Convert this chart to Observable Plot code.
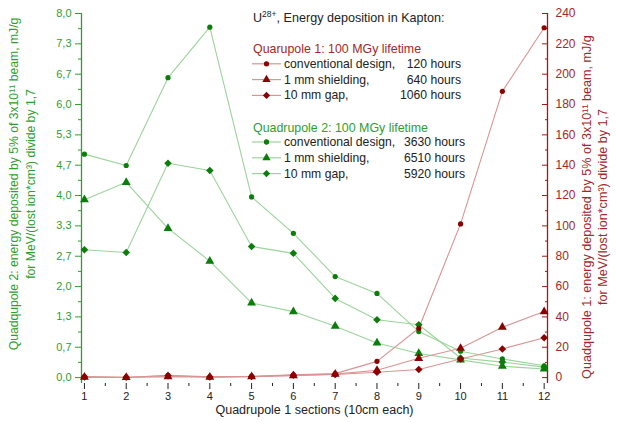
<!DOCTYPE html>
<html><head><meta charset="utf-8">
<script src="https://cdn.jsdelivr.net/npm/d3@7"></script>
<script src="https://cdn.jsdelivr.net/npm/@observablehq/plot@0.6"></script>
<style>body{margin:0;background:#fff;}</style>
</head><body><div id="chart"></div>
<script>
// ---- data ----
const sections = [1,2,3,4,5,6,7,8,9,10,11,12];
// Quadrupole 2 (left axis)
const q2Conventional = [4.91,4.66,6.59,7.70,3.97,3.17,2.22,1.85,1.01,0.58,0.41,0.26];
const q2Shield1mm   = [3.91,4.29,3.28,2.56,1.64,1.45,1.13,0.76,0.53,0.39,0.25,0.19];
const q2Gap10mm     = [2.81,2.75,4.71,4.55,2.88,2.73,1.74,1.27,1.16,0.43,0.34,0.23];
// Quadrupole 1 (right axis)
const q1Conventional = [0.6,0.1,1.5,0.5,0.8,1.8,2.6,10.7,32.5,101.3,188.7,230.6];
const q1Shield1mm   = [0.3,0.1,0.6,0.3,0.6,1.3,2.3,4.8,12.7,19.3,33.2,43.5];
const q1Gap10mm     = [0.4,0.2,1.2,0.4,0.7,1.6,2.0,3.5,5.3,12.3,18.9,26.2];
// tick labels
const leftTickLabels = ["0,0","0,7","1,3","2,0","2,7","3,3","4,0","4,7","5,3","6,0","6,7","7,3","8,0"];
const rightTickLabels = ["0","20","40","60","80","100","120","140","160","180","200","220","240"];
const xTickLabels = ["1","2","3","4","5","6","7","8","9","10","11","12"];
// legend and titles
const q1Header = "Quarupole 1: 100 MGy lifetime";
const q2Header = "Quadrupole 2: 100 MGy lifetime";
const legendNames = ["conventional design,", "1 mm shielding,", "10 mm gap,"];
const q1Hours = ["120 hours", "640 hours", "1060 hours"];
const q2Hours = ["3630 hours", "6510 hours", "5920 hours"];
const leftTitle = ["Quadqupole 2: energy deposited by 5% of 3x10¹¹ beam, mJ/g", "for MeV/(lost ion*cm³) divide by 1,7"];
const rightTitle = ["Quadqupole 1: energy deposited by 5% of 3x10¹¹ beam, mJ/g", "for MeV/(lost ion*cm³) divide by 1,7"];

// ---- styling ----
const FONT = "'Liberation Sans', Arial, sans-serif";
const GREEN_TXT = "#2f9e2f", GREEN_DOT = "#0a7d0a", GREEN_LINE = "#9bd49b";
const RED_TXT = "#a3282a", RED_DOT = "#8b0000", RED_LINE = "#d99494", RED_AXIS = "#a01818";
const RATIO = 30; // right axis (0..240) over left axis (0..8)

const rows = [];
const add = (arr, group, kind) => arr.forEach((v, i) => rows.push({x: sections[i], v, group, kind}));
add(q2Conventional, "q2", "conv"); add(q2Shield1mm, "q2", "1mm"); add(q2Gap10mm, "q2", "10mm");
add(q1Conventional, "q1", "conv"); add(q1Shield1mm, "q1", "1mm"); add(q1Gap10mm, "q1", "10mm");
const q2 = rows.filter(d => d.group === "q2");
const q1 = rows.filter(d => d.group === "q1");
const yOf = d => d.group === "q1" ? d.v / RATIO : d.v;
const symOf = {conv: "circle", "1mm": "triangle", "10mm": "diamond2"};
const rOf = {conv: 2.6, "1mm": 3.3, "10mm": 3.4};

const xDomain = [0.93, 12.08];
const leftTickVals = leftTickLabels.map((_, i) => i * 8 / 12);
const leftMinor = leftTickLabels.slice(1).map((_, i) => (i + 0.5) * 8 / 12);
const rightTickVals = rightTickLabels.map(s => +s / RATIO);
const rightMinor = rightTickLabels.slice(1).map(s => (+s - 10) / RATIO);
const xMinor = xTickLabels.slice(1).map(s => +s - 0.5);

const dotsFor = (data, fill) => ["conv", "1mm", "10mm"].map(k =>
  Plot.dot(data.filter(d => d.kind === k), {x: "x", y: yOf, symbol: () => symOf[k], r: rOf[k], fill, stroke: "none"}));

const chart = Plot.plot({
  width: 617, height: 422,
  marginLeft: 81, marginRight: 70, marginTop: 13, marginBottom: 39,
  style: {fontFamily: FONT, fontSize: "11px", background: "#fff", overflow: "visible"},
  x: {domain: xDomain, axis: null},
  y: {domain: [-0.13, 8.0], axis: null},
  symbol: {type: "identity"},
  marks: [
    Plot.ruleX([xDomain[0]], {stroke: GREEN_TXT, strokeWidth: 1.3}),
    Plot.ruleX([xDomain[1]], {stroke: RED_AXIS, strokeWidth: 1.3}),
    // left axis
    Plot.axisY({anchor: "left", ticks: leftTickVals, tickSize: 6, tickPadding: 4,
      tickFormat: (d, i) => leftTickLabels[i], color: GREEN_TXT, stroke: GREEN_TXT, label: null, fontSize: 11}),
    Plot.axisY({anchor: "left", ticks: leftMinor, tickSize: 3, tickFormat: () => "", stroke: GREEN_TXT, label: null}),
    // right axis (ticks point inward)
    Plot.axisY({anchor: "right", ticks: rightTickVals, tickSize: 6, dx: -6, tickPadding: 8,
      tickFormat: (d, i) => rightTickLabels[i], color: RED_TXT, stroke: RED_AXIS, label: null, fontSize: 12}),
    Plot.axisY({anchor: "right", ticks: rightMinor, tickSize: 3, dx: -3, tickFormat: () => "", stroke: RED_AXIS, label: null}),
    // x axis
    Plot.axisX({anchor: "bottom", ticks: xTickLabels.map(Number), tickSize: 6, tickPadding: 3,
      tickFormat: d => String(d), color: "#222", label: null, fontSize: 11}),
    Plot.axisX({anchor: "bottom", ticks: xMinor, tickSize: 3, tickFormat: () => "", stroke: "#222", label: null}),
    Plot.text(["Quadrupole 1 sections (10cm each)"], {frameAnchor: "bottom", dy: 30, fontSize: 12.5, fill: "#222"}),
    // lines
    Plot.line(q2, {x: "x", y: yOf, z: "kind", stroke: GREEN_LINE, strokeWidth: 1.1}),
    Plot.line(q1, {x: "x", y: yOf, z: "kind", stroke: RED_LINE, strokeWidth: 1.1}),
    ...dotsFor(q2, GREEN_DOT),
    ...dotsFor(q1, RED_DOT)
  ]
});
document.getElementById("chart").appendChild(chart);

// ---- titles and legend ----
const svg = d3.select(chart);
const g = svg.append("g").attr("font-family", FONT).attr("font-size", 12.2).attr("text-anchor", "start");

const title = g.append("text").attr("x", 253).attr("y", 21.5).attr("fill", "#222").attr("font-size", 12.6);
title.append("tspan").text("U");
title.append("tspan").attr("dy", -5).attr("font-size", 8.5).text("28+");
title.append("tspan").attr("dy", 5).text(", Energy deposition in Kapton:");

const symbols = [d3.symbolCircle, d3.symbolTriangle, d3.symbolDiamond2];
const symSize = [22, 30, 34];
function legendBlock(header, hours, y0, txtColor, lineColor, dotColor, hoursEnd) {
  g.append("text").attr("x", 253).attr("y", y0).attr("fill", txtColor).attr("font-size", 12.4).text(header);
  legendNames.forEach((name, i) => {
    const y = y0 + 14.5 + i * 15.8;
    g.append("line").attr("x1", 252).attr("x2", 281).attr("y1", y - 4).attr("y2", y - 4)
      .attr("stroke", lineColor).attr("stroke-width", 1.2);
    g.append("path").attr("d", d3.symbol(symbols[i], symSize[i])())
      .attr("transform", `translate(266.5,${y - 4})`).attr("fill", dotColor);
    g.append("text").attr("x", 284).attr("y", y).attr("fill", "#222").text(name);
    g.append("text").attr("x", hoursEnd).attr("y", y).attr("text-anchor", "end").attr("fill", "#222").text(hours[i]);
  });
}
legendBlock(q1Header, q1Hours, 53.3, RED_TXT, RED_LINE, RED_DOT, 461);
legendBlock(q2Header, q2Hours, 131.5, GREEN_TXT, GREEN_LINE, GREEN_DOT, 465);

function axisTitle(lines, xs, cy, color, size) {
  lines.forEach((txt, i) => {
    g.append("text").attr("transform", `translate(${xs[i]},${cy}) rotate(-90)`)
      .attr("text-anchor", "middle").attr("dominant-baseline", "middle")
      .attr("font-size", size).attr("fill", color).text(txt);
  });
}
axisTitle(leftTitle, [15, 32], 184, GREEN_TXT, 12.2);
axisTitle(rightTitle, [588, 604], 207, RED_TXT, 12.6);
</script>
</body></html>
